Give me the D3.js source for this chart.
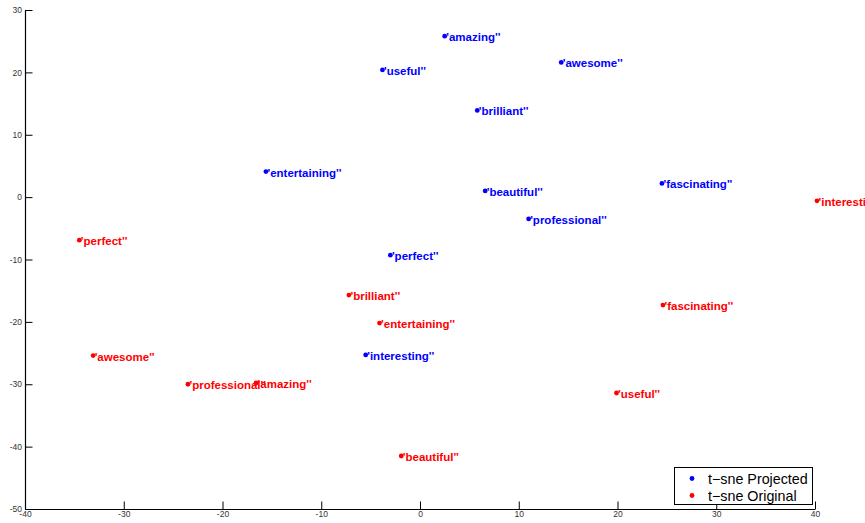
<!DOCTYPE html>
<html>
<head>
<meta charset="utf-8">
<script src="https://cdn.jsdelivr.net/npm/d3@7"></script>
<style>
  html, body { margin: 0; padding: 0; background: #fff; }
  svg { display: block; font-family: "Liberation Sans", Arial, Helvetica, sans-serif; }
</style>
</head>
<body>
<svg id="chart" width="865" height="523"></svg>
<script>
// word embeddings in 2-D after t-SNE
const words = ["amazing", "useful", "awesome", "brilliant", "entertaining",
               "beautiful", "fascinating", "professional", "perfect", "interesting"];

const projectedX = [2.5, -3.8, 14.3, 5.8, -15.6, 6.6, 24.5, 11.0, -3.0, -5.5];
const projectedY = [25.8, 20.4, 21.6, 13.9, 4.1, 1.0, 2.2, -3.5, -9.3, -25.3];

const originalX = [-16.6, 19.9, -33.1, -7.2, -4.1, -1.9, 24.6, -23.5, -34.5, 40.2];
const originalY = [-29.8, -31.4, -25.4, -15.7, -20.2, -41.5, -17.3, -30.0, -6.9, -0.6];

const xTicks = [-40, -30, -20, -10, 0, 10, 20, 30, 40];
const yTicks = [-50, -40, -30, -20, -10, 0, 10, 20, 30];

const seriesNames = ["t\u2212sne Projected", "t\u2212sne Original"];
const seriesColors = ["#0000ff", "#ff0000"];

const svg = d3.select("#chart");
const plot = { left: 25, right: 815, top: 10, bottom: 509 };

const x = d3.scaleLinear().domain([-40, 40]).range([plot.left, plot.right]);
const y = d3.scaleLinear().domain([-50, 30]).range([plot.bottom, plot.top]);

const fmt = d => (d < 0 ? "-" : "") + Math.abs(d);

// bottom axis, ticks pointing inward
const gx = svg.append("g")
  .attr("transform", `translate(0,${plot.bottom})`)
  .call(d3.axisBottom(x).tickValues(xTicks).tickSize(-7.5).tickSizeOuter(0).tickPadding(3).tickFormat(fmt));

// left axis, ticks pointing inward
const gy = svg.append("g")
  .attr("transform", `translate(${plot.left},0)`)
  .call(d3.axisLeft(y).tickValues(yTicks).tickSize(-7.5).tickSizeOuter(0).tickPadding(3).tickFormat(fmt));

[gx, gy].forEach(g => {
  g.select(".domain").attr("stroke", "#000").attr("stroke-width", 1.2);
  g.selectAll(".tick line").attr("stroke", "#000").attr("stroke-width", 1);
  g.selectAll(".tick text").attr("fill", "#333").attr("font-size", 8.5)
    .attr("font-family", "Liberation Sans, Arial, sans-serif");
});
gx.selectAll(".tick text").attr("dy", "0.6em");

const series = [
  { xs: projectedX, ys: projectedY, color: seriesColors[0] },
  { xs: originalX, ys: originalY, color: seriesColors[1] }
];

series.forEach(s => {
  const pts = words.map((w, i) => ({ w, x: s.xs[i], y: s.ys[i] }));
  const g = svg.append("g");
  g.selectAll("circle").data(pts).join("circle")
    .attr("cx", d => x(d.x)).attr("cy", d => y(d.y))
    .attr("r", 2.4).attr("fill", s.color);
  g.selectAll("text").data(pts).join("text")
    .attr("x", d => x(d.x) + 1.5)
    .attr("y", d => y(d.y) + 1)
    .attr("dominant-baseline", "central")
    .attr("font-size", 11.5).attr("font-weight", "bold")
    .attr("fill", s.color)
    .text(d => `'${d.w}''`);
});

// legend
const lg = svg.append("g");
lg.append("rect")
  .attr("x", 674.5).attr("y", 467.5).attr("width", 138).attr("height", 37)
  .attr("fill", "#fff").attr("stroke", "#000").attr("stroke-width", 1);
seriesNames.forEach((name, i) => {
  const cy = 478.5 + i * 17;
  lg.append("circle").attr("cx", 692).attr("cy", cy).attr("r", 2.4).attr("fill", seriesColors[i]);
  lg.append("text").attr("x", 708).attr("y", cy).attr("dominant-baseline", "central")
    .attr("font-size", 14.3).attr("fill", "#000").text(name);
});
</script>
</body>
</html>
